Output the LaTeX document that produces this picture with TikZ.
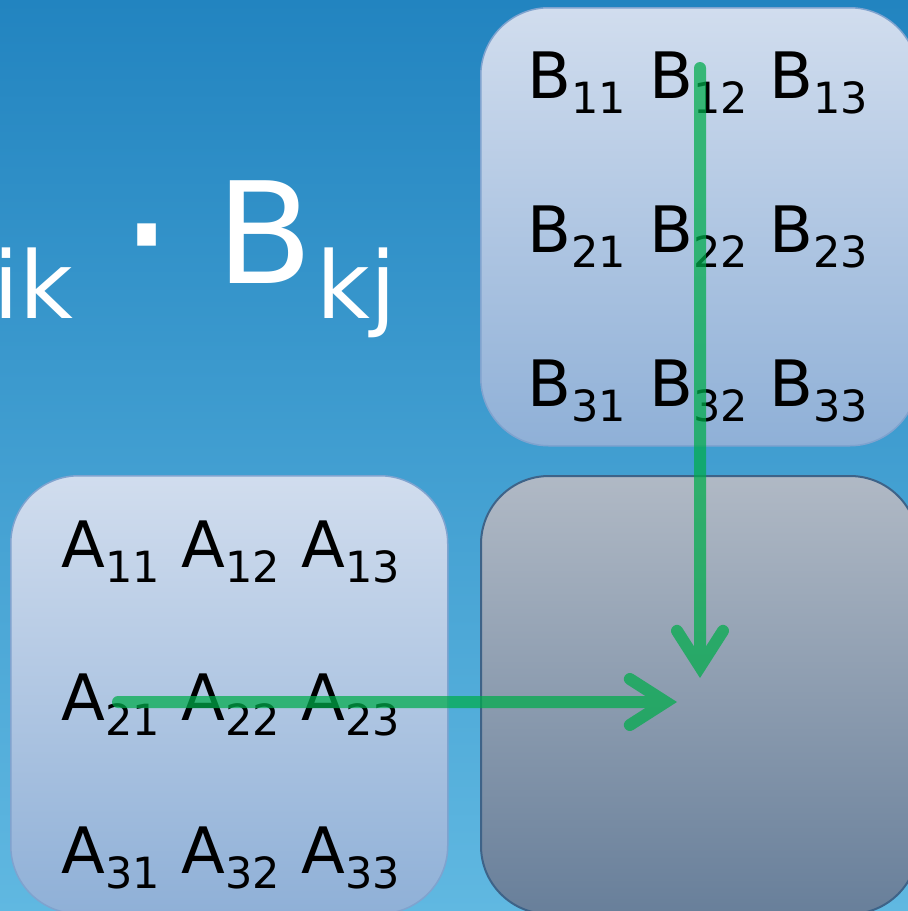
\documentclass[tikz,border=0pt]{standalone}
\usepackage{fontspec}
\setmainfont{DejaVu Sans}
\usetikzlibrary{arrows.meta}
\definecolor{bgtop}{HTML}{2284C0}
\definecolor{bgbot}{HTML}{60B8E1}
\definecolor{mattop}{HTML}{D1DDEE}
\definecolor{matbot}{HTML}{8FB0D7}
\definecolor{matline}{HTML}{7FA3CF}
\definecolor{restop}{HTML}{B0B9C5}
\definecolor{resbot}{HTML}{687F9A}
\definecolor{resline}{HTML}{3E6388}
\definecolor{flowgreen}{HTML}{00AC4B}
\newcommand{\mel}[2]{#1\raisebox{-15pt}{\fontsize{43}{43}\selectfont #2}}

\begin{document}
\begin{tikzpicture}[x=1pt, y=-1pt]
  \tikzstyle{mat}=[rectangle, rounded corners=68pt, draw=matline, line width=1.5pt,
                   top color=mattop, bottom color=matbot, anchor=north west,
                   minimum width=437pt, minimum height=438pt, inner sep=0pt]
  \tikzstyle{res}=[mat, draw=resline, line width=2pt, top color=restop, bottom color=resbot]
  \tikzstyle{ent}=[anchor=base west, inner sep=0pt, font=\fontsize{64}{64}\selectfont]
  \tikzstyle{big}=[anchor=base west, inner sep=0pt, text=white, font=\fontsize{141}{141}\selectfont]
  \tikzstyle{sub}=[big, font=\fontsize{93}{93}\selectfont]
  \tikzstyle{flow}=[line width=12pt, draw=flowgreen, line cap=round,
                    -{Straight Barb[length=36pt, width=46pt, line cap=round, line join=miter]}]
  \useasboundingbox (0,0) rectangle (908,911);
  \fill[top color=bgtop, bottom color=bgbot] (0,0) rectangle (908,911);
  \node[mat](Bbox) at (480,7){};
  \node[mat](Abox) at (10,475){};
  \node[res](Cbox) at (480,475){};
  \foreach \r/\yb in {1/98,2/252,3/406}
    \foreach \c/\xb in {1/527,2/649,3/769}
      \node[ent](b\r\c) at (\xb,\yb){\mel{B}{\r\c}};
  \foreach \r/\yb in {1/567,2/720,3/873}
    \foreach \c/\xb in {1/61.5,2/181.5,3/301.5}
      \node[ent](a\r\c) at (\xb,\yb){\mel{A}{\r\c}};
  \node[sub](ik) at (-7,318){ik};
  \node[big, font=\fontsize{180}{180}\selectfont](dot) at (118,297){·};
  \node[big](B) at (216,283){B};
  \node[sub](kj) at (316,318){kj};
  \coordinate (colstart) at (700,68);
  \coordinate (coltip) at (700,678);
  \coordinate (rowstart) at (118,702);
  \coordinate (rowtip) at (677,702);
  \begin{scope}[transparency group, opacity=0.72]
    \draw[flow](colstart)--(coltip);
    \draw[flow](rowstart)--(rowtip);
  \end{scope}
\end{tikzpicture}
\end{document}
